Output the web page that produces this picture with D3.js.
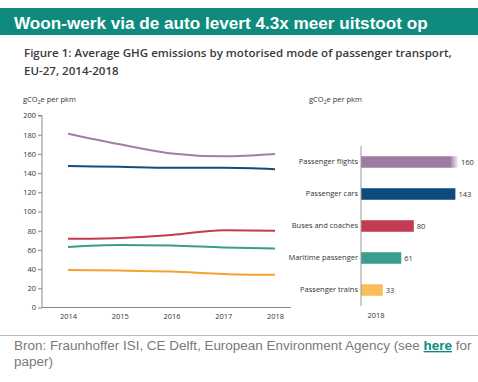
<!DOCTYPE html>
<html><head><meta charset="utf-8">
<script src="https://cdn.jsdelivr.net/npm/d3@7"></script>
<style>
html,body{margin:0;padding:0;background:#fff;}
svg{display:block;}
</style></head>
<body>
<svg id="c" width="478" height="382"></svg>
<script>
// ---- data ----
const years = [2014, 2015, 2016, 2017, 2018];
const seriesNames = ["Passenger flights", "Passenger cars", "Buses and coaches", "Maritime passenger", "Passenger trains"];
const flights  = [181, 170, 160.5, 157.5, 160];
const cars     = [147.5, 146.5, 145.5, 145.5, 144];
const buses    = [71.5, 72.5, 75.5, 80.5, 80];
const maritime = [63, 65, 64.5, 62.5, 61.5];
const trains   = [39, 38.5, 37.5, 35, 34];
const bars2018 = [160, 143, 80, 61, 33];
const yTicks = [0, 20, 40, 60, 80, 100, 120, 140, 160, 180, 200];
const lineColors = ["#a27ea6", "#124d7f", "#c63a52", "#3b9d8d", "#f5a32c"];
const barColors  = ["#9e7ba0", "#0f4a7c", "#c43b51", "#3a9e8e", "#f8be5a"];

const svg = d3.select("#c");
const chartFont = "'Open Sans', 'Noto Sans', sans-serif";

// scale a text's font size so that the measured node spans the given width
function fit(sel, width, measureNode) {
  const fs = parseFloat(sel.attr("font-size"));
  const w = (measureNode || sel.node()).getComputedTextLength();
  if (w > 0) sel.attr("font-size", fs * width / w);
}

// ---- banner ----
svg.append("rect").attr("x", 0).attr("y", 8).attr("width", 478).attr("height", 27).attr("fill", "#0f8b7d");
const title = svg.append("text").attr("x", 14).attr("y", 29)
  .attr("font-family", "'Liberation Sans', Arial, sans-serif").attr("font-weight", "bold")
  .attr("font-size", 18).attr("fill", "#fff")
  .text("Woon-werk via de auto levert 4.3x meer uitstoot op");
fit(title, 414);

// ---- figure title ----
const sub1 = svg.append("text").attr("x", 24).attr("y", 57).attr("font-family", chartFont).attr("font-weight", 600)
  .attr("font-size", 12).attr("fill", "#3a3a3a")
  .text("Figure 1: Average GHG emissions by motorised mode of passenger transport,");
fit(sub1, 428);
svg.append("text").attr("x", 24).attr("y", 75).attr("font-family", chartFont).attr("font-weight", 600)
  .attr("font-size", sub1.attr("font-size")).attr("fill", "#3a3a3a").text("EU-27, 2014-2018");

function unitLabel(x, y) {
  const t = svg.append("text").attr("x", x).attr("y", y).attr("font-family", chartFont)
    .attr("font-size", 7.5).attr("fill", "#333");
  t.append("tspan").text("gCO");
  t.append("tspan").attr("font-size", 5).attr("dy", 2).text("2");
  t.append("tspan").attr("dy", -2).text("e per pkm");
}

// ---- left line chart ----
const x = d3.scalePoint().domain(years).range([68, 275]);
const y = d3.scaleLinear().domain([0, 200]).range([307.5, 115.5]);

unitLabel(23, 102);

const yAxis = svg.append("g").attr("transform", "translate(42,0)")
  .call(d3.axisLeft(y).tickValues(yTicks).tickSize(4).tickPadding(2).tickFormat(d3.format("d")));
yAxis.select(".domain").attr("stroke", "#888").attr("d", `M-4,${y(200)}H0V${y(0)}`);
yAxis.selectAll(".tick line").attr("stroke", "#888");
yAxis.selectAll("text").attr("font-family", chartFont).attr("font-size", 7.5).attr("fill", "#333");

const xAxis = svg.append("g").attr("transform", `translate(0,${y(0)})`)
  .call(d3.axisBottom(x).tickSize(0).tickPadding(6));
xAxis.select(".domain").attr("stroke", "#888").attr("d", "M42,0H291");
xAxis.selectAll("text").attr("font-family", chartFont).attr("font-size", 7.5).attr("fill", "#333");

const allSeries = [flights, cars, buses, maritime, trains];
const line = d3.line().x((d, i) => x(years[i])).y(d => y(d)).curve(d3.curveMonotoneX);
svg.append("g").selectAll("path").data(allSeries).join("path")
  .attr("d", line).attr("fill", "none")
  .attr("stroke", (d, i) => lineColors[i]).attr("stroke-width", 2);

// ---- right bar chart ----
unitLabel(309, 102);
const xb = d3.scaleLinear().domain([0, 160]).range([361, 466.6]);
const yb = d3.scaleBand().domain(seriesNames).range([146, 306]).paddingInner(0.64).paddingOuter(0.32);
const clipRight = 458;

const defs = svg.append("defs");
defs.append("clipPath").attr("id", "barclip").append("rect")
  .attr("x", 361).attr("y", 140).attr("width", clipRight - 361).attr("height", 170);
const grad = defs.append("linearGradient").attr("id", "fade")
  .attr("gradientUnits", "userSpaceOnUse").attr("x1", 450).attr("x2", clipRight).attr("y1", 0).attr("y2", 0);
grad.append("stop").attr("offset", 0).attr("stop-color", barColors[0]);
grad.append("stop").attr("offset", 1).attr("stop-color", barColors[0]).attr("stop-opacity", 0.1);

svg.append("g").attr("clip-path", "url(#barclip)").selectAll("rect").data(bars2018).join("rect")
  .attr("x", xb(0)).attr("y", (d, i) => yb(seriesNames[i]))
  .attr("width", d => xb(d) - xb(0)).attr("height", yb.bandwidth())
  .attr("fill", (d, i) => xb(d) > clipRight ? "url(#fade)" : barColors[i]);

svg.append("g").selectAll("text").data(bars2018).join("text")
  .attr("x", d => Math.min(xb(d), clipRight) + 3)
  .attr("y", (d, i) => yb(seriesNames[i]) + yb.bandwidth() / 2)
  .attr("dy", "0.35em").attr("font-family", chartFont).attr("font-size", 7.5).attr("fill", "#333")
  .text(d => d);

const yAxisB = svg.append("g").attr("transform", `translate(${xb(0)},0)`)
  .call(d3.axisLeft(yb).tickSize(0).tickPadding(3));
yAxisB.select(".domain").attr("stroke", "#999").attr("d", "M0,146V306");
yAxisB.selectAll("text").attr("font-family", chartFont).attr("font-size", 7.5).attr("fill", "#333");

svg.append("text").attr("x", 376).attr("y", 318).attr("text-anchor", "middle")
  .attr("font-family", chartFont).attr("font-size", 7.5).attr("fill", "#333").text("2018");

// ---- footer ----
svg.append("line").attr("x1", 0).attr("x2", 478).attr("y1", 335.5).attr("y2", 335.5)
  .attr("stroke", "#bbb").attr("stroke-width", 1);
const ft = svg.append("text").attr("font-family", "'Liberation Sans', Arial, sans-serif")
  .attr("font-size", 13.6).attr("fill", "#7a7a7a");
const l1 = ft.append("tspan").attr("x", 14).attr("y", 350);
l1.append("tspan").text("Bron: Fraunhoffer ISI, CE Delft, European Environment Agency (see ");
l1.append("tspan").attr("font-weight", "bold").attr("fill", "#0f8b7d").attr("text-decoration", "underline").text("here");
l1.append("tspan").text(" for");
ft.append("tspan").attr("x", 14).attr("y", 366).text("paper)");
// measure only the first line
const tmp = svg.append("text").attr("font-family", "'Liberation Sans', Arial, sans-serif").attr("font-size", 13.6)
  .text("Bron: Fraunhoffer ISI, CE Delft, European Environment Agency (see here for");
tmp.append("tspan");
const w1 = tmp.node().getComputedTextLength();
tmp.remove();
ft.attr("font-size", Math.min(14.5, 13.6 * 456 / w1));
</script>
</body></html>
